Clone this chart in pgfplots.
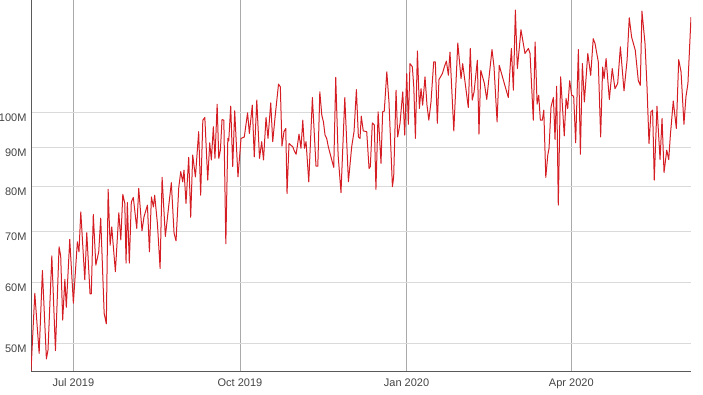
\documentclass[border=0pt]{standalone}
\usepackage{pgfplots}
\pgfplotsset{compat=1.18}
\usepackage{fontspec}
\setmainfont{Liberation Sans}
\definecolor{linered}{RGB}{212,30,36}
\definecolor{labelgray}{RGB}{68,68,68}
\definecolor{axisgray}{RGB}{90,90,90}
\definecolor{vgrid}{RGB}{170,170,170}
\definecolor{hgrid}{RGB}{218,218,218}
\begin{document}
\begin{tikzpicture}
\path[use as bounding box] (-31pt,-24pt) rectangle (672pt,371pt);
\begin{axis}[
  at={(0pt,0pt)}, anchor=south west,
  width=660pt, height=371pt, scale only axis,
  ymode=log,
  xmin=-23.4, xmax=341.1,
  ymin=46, ymax=140.2,
  axis x line*=bottom, axis y line*=left,
  axis line style={color=axisgray, line width=0.8pt},
  xtick={0,92,184,275},
  xticklabels={Jul 2019, Oct 2019, Jan 2020, Apr 2020},
  ytick={50,60,70,80,90,100},
  yticklabels={50M,60M,70M,80M,90M,100M},
  yminorticks=false, xminorticks=false,
  major tick length=0pt,
  xmajorgrids, ymajorgrids,
  x grid style={color=vgrid, line width=0.6pt},
  y grid style={color=hgrid, line width=0.6pt},
  tick label style={font=\fontsize{11}{13}\selectfont, color=labelgray},
  yticklabel style={yshift=-5pt, xshift=-1pt},
  xticklabel style={yshift=-4pt},
  clip=true,
]
\addplot[linered, line width=1pt, line join=round] coordinates {
(-23.5,45.5) (-21.3,58.1) (-18.9,48.5) (-17.1,62.2) (-14.9,47.7) (-14.0,49.0)
(-11.9,65.0) (-9.9,48.9) (-7.9,66.8) (-7.0,65.0) (-5.9,53.6) (-4.7,60.6)
(-3.9,55.7) (-2.0,68.3) (0,56.4) (2.2,67.8) (3.1,65.8) (4.1,74.2)
(6.3,60.5) (7.4,69.7) (9.2,58.0) (9.9,58.0) (11.0,73.6) (12.4,63.2)
(14.0,65.8) (15.1,72.8) (17.0,54.7) (18.2,53.0) (19.2,79.4) (20.3,67.1)
(21.2,70.9) (23.2,62.0) (25.1,74.0) (26.2,68.2) (27.3,78.2) (28.4,76.1)
(29.1,63.6) (29.8,76.3) (30.9,63.6) (32.0,76.4) (33.1,77.5) (35.0,70.6)
(36.1,79.6) (37.9,70.1) (39.0,73.1) (40.9,75.7) (42.0,65.8) (43.1,77.6)
(44.2,75.3) (44.9,78.0) (46.4,71.7) (47.9,62.6) (49.0,82.3) (50.8,68.9)
(52.3,74.2) (54.1,81.0) (55.6,69.6) (56.7,68.0) (58.2,79.8) (59.3,83.7)
(60.4,81.2) (61.1,84.1) (62.2,76.1) (63.7,87.4) (64.8,73.0) (65.9,88.0)
(67.4,82.4) (69.2,94.4) (70.3,78.0) (71.5,97.7) (72.6,98.5) (74.2,81.6)
(75.3,91.3) (76.2,86.7) (77.3,95.8) (78.2,87.1) (79.4,102.5) (80.3,87.1)
(81.2,89.3) (82.1,97.9) (83.1,97.7) (84.2,67.4) (85.3,92.5) (85.8,91.8)
(86.9,101.9) (88.0,85.0) (89.1,100.5) (90.9,82.4) (92.6,92.5) (94.4,92.9)
(96.2,99.9) (97.2,93.9) (98.8,102.2) (99.9,87.5) (101.3,103.8) (102.8,87.1)
(104.0,91.6) (105.0,86.7) (106.4,98.5) (107.5,92.5) (109.0,102.9) (110.1,91.6)
(111.4,98.7) (113.3,108.9) (114.3,108.0) (115.2,90.4) (116.3,94.4) (117.3,95.3)
(118.0,78.4) (119.1,91.1) (120.2,90.6) (121.2,90.2) (122.0,89.1) (123.0,88.2)
(123.7,90.4) (124.6,93.7) (125.7,89.8) (126.7,97.7) (127.6,89.8) (128.5,91.6)
(130.0,81.2) (132.0,104.6) (134.0,85.1) (135.0,85.1) (136.1,106.4) (137.2,99.2)
(138.1,97.2) (139.0,93.4) (139.9,92.5) (140.8,90.2) (142.7,86.7) (143.8,84.8)
(144.9,111.1) (146.2,88.0) (147.8,78.6) (149.9,104.6) (151.9,81.2) (153.7,90.2)
(155.0,94.4) (156.3,107.1) (157.4,92.9) (158.3,92.5) (159.0,98.9) (160.1,94.6)
(162.0,94.4) (163.3,84.5) (164.0,85.0) (165.1,96.9) (166.2,96.3) (167.1,79.4)
(168.3,100.2) (169.9,85.8) (170.8,100.2) (171.7,100.4) (173.1,113.0) (174.3,103.2)
(176.2,80.0) (176.9,82.4) (178.2,106.9) (179.1,92.9) (180.4,96.8) (181.9,106.4)
(183.0,93.4) (184.1,112.4) (185.0,96.5) (185.9,115.8) (187.2,114.7) (188.0,108.0)
(188.9,92.5) (190.0,120.3) (191.1,101.2) (192.0,107.4) (192.9,102.2) (194.2,111.3)
(195.3,102.2) (196.3,97.7) (197.5,103.2) (199.0,116.4) (199.9,116.4) (201.0,96.8)
(201.9,110.4) (203.8,112.4) (204.9,114.7) (206.0,116.7) (207.1,111.8) (208.0,119.9)
(209.0,106.9) (210.1,94.6) (212.3,123.2) (214.1,110.7) (215.0,115.8) (216.3,109.6)
(218.1,101.5) (219.2,121.2) (220.3,103.8) (221.3,106.4) (223.1,117.0) (224.0,93.7)
(225.0,113.5) (227.0,109.1) (228.3,104.0) (229.2,109.1) (231.2,120.8) (232.3,114.7)
(234.0,97.2) (235.2,115.2) (238.0,109.1) (240.2,104.6) (241.1,113.5) (241.9,121.2)
(243.0,106.9) (244.1,136.0) (245.2,114.1) (247.2,128.2) (249.4,119.4) (251.3,121.2)
(252.2,119.4) (254.0,97.7) (255.0,123.6) (256.1,102.5) (257.0,105.3) (257.9,97.7)
(259.0,97.7) (259.8,100.7) (260.9,82.3) (262.0,88.0) (262.7,89.8) (263.8,101.7)
(265.1,104.6) (266.0,92.2) (266.9,108.2) (267.8,75.7) (269.1,111.3) (271.1,93.2)
(272.1,104.3) (273.0,101.2) (274.1,110.0) (275.2,105.3) (276.3,105.0) (277.4,91.3)
(278.9,120.8) (280.0,88.2) (281.1,115.8) (282.2,103.2) (284.1,119.4) (285.7,111.8)
(287.1,124.8) (288.1,123.0) (289.9,116.4) (291.2,92.9) (292.3,114.6) (293.1,110.7)
(294.2,117.6) (296.0,104.0) (297.6,114.1) (299.1,107.4) (300.6,109.1) (302.1,121.8)
(304.1,106.7) (305.8,117.0) (307.0,132.9) (308.3,125.4) (310.3,120.6) (312.0,110.0)
(313.1,108.5) (314.0,135.6) (315.7,123.0) (316.8,108.0) (317.9,91.1) (319.0,100.2)
(319.9,100.7) (320.8,81.6) (322.3,101.9) (324.0,86.8) (325.1,98.2) (326.2,83.5)
(327.7,89.3) (328.8,86.8) (329.7,93.4) (331.3,103.5) (333.0,95.3) (334.3,117.2)
(335.6,113.0) (337.2,96.5) (338.3,104.8) (339.4,109.1) (341.1,133.2)
};
\end{axis}
\end{tikzpicture}
\end{document}
